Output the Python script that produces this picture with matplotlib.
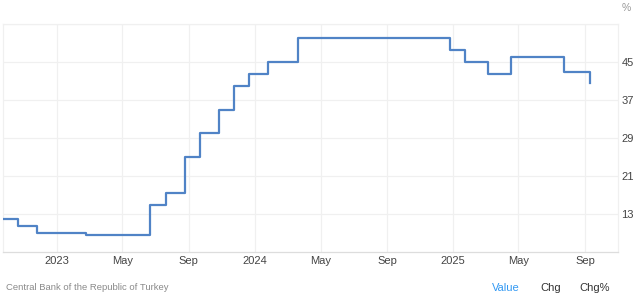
import matplotlib
matplotlib.use("Agg")
import matplotlib.pyplot as plt
import pandas as pd

plt.rcParams['font.family'] = ['Liberation Sans', 'DejaVu Sans']

dates = ["2022-09-22", "2022-10-20", "2022-11-24", "2023-02-23", "2023-06-22",
         "2023-07-20", "2023-08-24", "2023-09-21", "2023-10-26", "2023-11-23",
         "2023-12-21", "2024-01-25", "2024-03-21", "2024-12-26", "2025-01-23",
         "2025-03-06", "2025-04-17", "2025-07-24", "2025-09-11"]
rates = [12, 10.5, 9, 8.5, 15, 17.5, 25, 30, 35, 40, 42.5, 45, 50, 47.5, 45,
         42.5, 46, 43, 40.5]
y_ticks = [13, 21, 29, 37, 45]
x_tick_dates = ["2023-01-01", "2023-05-01", "2023-09-01", "2024-01-01", "2024-05-01",
                "2024-09-01", "2025-01-01", "2025-05-01", "2025-09-01"]
x_tick_labels = ["2023", "May", "Sep", "2024", "May", "Sep", "2025", "May", "Sep"]

x = pd.to_datetime(dates)

fig = plt.figure(figsize=(6.43, 3.0), dpi=100)
ax = fig.add_axes([3/643, 48/300, 615/643, 228/300])

ax.plot(x, rates, drawstyle='steps-post', color='#5083c6', lw=1.6, zorder=3)

ax.set_xlim(pd.Timestamp("2022-09-23"), pd.Timestamp("2025-11-01"))
ax.set_ylim(5, 53)

ax.set_yticks(y_ticks + [53])
ax.set_yticklabels([str(v) for v in y_ticks] + [""])
ax.yaxis.tick_right()
ax.set_xticks(pd.to_datetime(x_tick_dates))
ax.set_xticklabels(x_tick_labels)

ax.grid(True, color='#f0f0f0', lw=0.9, zorder=0)
ax.tick_params(axis='both', length=0, labelsize=8, labelcolor='#444444')
ax.tick_params(axis='y', pad=2.5)
ax.tick_params(axis='x', pad=3)

for s in ['left', 'right', 'top']:
    ax.spines[s].set_color('#f0f0f0')
    ax.spines[s].set_linewidth(0.9)
ax.spines['bottom'].set_color('#dddddd')
ax.spines['bottom'].set_linewidth(0.9)

fig.text(626/643, 1 - 8/300, "%", fontsize=7.5, color='#999999', ha='center', va='center')
fig.text(6/643, 1 - 288/300, "Central Bank of the Republic of Turkey", fontsize=6.8,
         color='#8a8a8a', ha='left', va='center')
fig.text(506/643, 1 - 288/300, "Value", fontsize=8, color='#3399f3', ha='center', va='center')
fig.text(551/643, 1 - 288/300, "Chg", fontsize=8, color='#333333', ha='center', va='center')
fig.text(595/643, 1 - 288/300, "Chg%", fontsize=8, color='#333333', ha='center', va='center')

fig.savefig("out.png", dpi=100)
